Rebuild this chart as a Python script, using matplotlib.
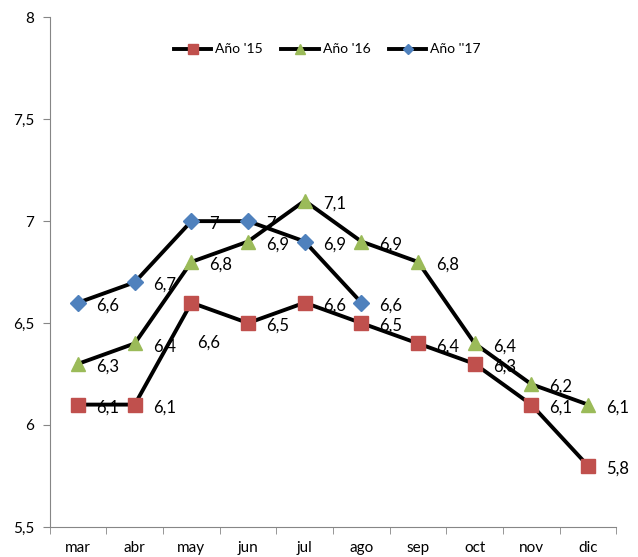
import matplotlib
matplotlib.use('Agg')
import matplotlib.pyplot as plt

months = ['mar', 'abr', 'may', 'jun', 'jul', 'ago', 'sep', 'oct', 'nov', 'dic']
anio_15 = [6.1, 6.1, 6.6, 6.5, 6.6, 6.5, 6.4, 6.3, 6.1, 5.8]
anio_16 = [6.3, 6.4, 6.8, 6.9, 7.1, 6.9, 6.8, 6.4, 6.2, 6.1]
anio_17 = [6.6, 6.7, 7.0, 7.0, 6.9, 6.6]
y_ticks = [5.5, 6, 6.5, 7, 7.5, 8]

plt.rcParams['font.family'] = ['Lato', 'DejaVu Sans']

fig = plt.figure(figsize=(6.38, 5.57), dpi=100)
ax = fig.add_axes([0.078, 0.054, 0.888, 0.915])

series = [
    ("Año '15", anio_15, 's', '#c0504d', 10.5),
    ("Año '16", anio_16, '^', '#9bbb59', 10.5),
    ("Año ''17", anio_17, 'D', '#4f81bd', 8),
]

def fmt(v):
    s = ('%g' % v).replace('.', ',')
    return s

for z, (name, vals, mk, col, ms) in enumerate(series):
    xs = list(range(len(vals)))
    ax.plot(xs, vals, color='black', lw=2.8, marker=mk, markersize=ms,
            markerfacecolor=col, markeredgecolor=col, label=name, zorder=3 + z)
    for x, v in zip(xs, vals):
        dx, dy = 13, -2
        if name == "Año '15" and x == 2:
            dx, dy = 4, -29
        ax.annotate(fmt(v), (x, v), xytext=(dx, dy), textcoords='offset points',
                    ha='left', va='center', fontsize=12, zorder=1)

ax.set_xlim(-0.5, len(months) - 0.5)
ax.set_ylim(5.5, 8)
ax.set_yticks(y_ticks)
ax.set_yticklabels([fmt(t) for t in y_ticks], fontsize=11)
ax.set_xticks(range(len(months)))
ax.set_xticklabels(months, fontsize=11)
ax.set_xticks([i - 0.5 for i in range(len(months) + 1)], minor=True)
ax.tick_params(axis='x', which='major', length=0, pad=10)
ax.tick_params(axis='x', which='minor', length=5, color='#868686')
ax.tick_params(axis='y', length=5, color='#868686', pad=6)

for s in ['top', 'right']:
    ax.spines[s].set_visible(False)
for s in ['left', 'bottom']:
    ax.spines[s].set_color('#868686')

leg = ax.legend(loc='center', bbox_to_anchor=(0.49, 0.937), ncol=3, frameon=False,
                fontsize=10, handlelength=2.7, markerscale=0.65, columnspacing=1.3,
                handletextpad=0.3)

fig.savefig('out.png', dpi=100)
